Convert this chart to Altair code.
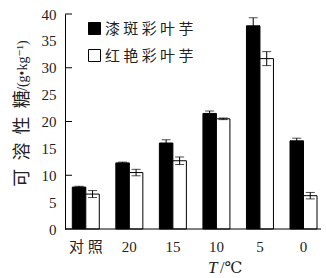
import altair as alt
import pandas as pd

categories = ["对照", "20", "15", "10", "5", "0"]
series_names = ["漆斑彩叶芋", "红艳彩叶芋"]
values_a = [7.8, 12.3, 16.0, 21.5, 37.8, 16.4]
errors_a = [0.15, 0.15, 0.6, 0.45, 1.5, 0.5]
values_b = [6.5, 10.5, 12.7, 20.5, 31.7, 6.2]
errors_b = [0.65, 0.6, 0.7, 0.15, 1.3, 0.6]
y_labels = [0, 5, 10, 15, 20, 25, 30, 35, 40]
y_ticks = [0, 10, 20, 30, 40]
y_title_cn = "可 \u2009溶 \u2009性 \u2009糖"
y_title_unit = "/(g•kg⁻¹)"

rows = []
for i, c in enumerate(categories):
    rows.append(dict(cat=c, series=series_names[0], v=values_a[i],
                     lo=values_a[i] - errors_a[i], hi=values_a[i] + errors_a[i]))
    rows.append(dict(cat=c, series=series_names[1], v=values_b[i],
                     lo=values_b[i] - errors_b[i], hi=values_b[i] + errors_b[i]))
df = pd.DataFrame(rows)

W, H = 256, 215
SERIF = "Liberation Serif, DejaVu Serif, Noto Sans CJK SC"

x_scale = alt.Scale(domain=categories, range=[7.3, 252], paddingInner=0.38, paddingOuter=0)
x_axis = alt.Axis(title=None, domain=False, ticks=False, labelAngle=0,
                  labelFont=SERIF, labelFontSize=15, labelColor="#222",
                  labelPadding=10,
                  labelExpr="join(split(datum.label, ''), datum.label == '对照' ? ' ' : '')")
xo_enc = alt.XOffset("series:N", sort=series_names,
                     scale=alt.Scale(domain=series_names, paddingInner=0, paddingOuter=0))
y_scale = alt.Scale(domain=[0, 40], nice=False)
y_axis = alt.Axis(values=y_labels, ticks=False, grid=False, domainColor="black",
                  domainWidth=1, labelFont="Liberation Serif", labelFontSize=15,
                  labelColor="#222", labelPadding=9, title=None)


def xenc():
    return alt.X("cat:N", sort=categories, scale=x_scale, axis=x_axis)


def yenc(field):
    return alt.Y(field, scale=y_scale, axis=y_axis)


bars = alt.Chart(df).mark_bar(stroke="black", strokeWidth=1).encode(
    x=xenc(),
    xOffset=xo_enc,
    y=yenc("v:Q"),
    fill=alt.Color("series:N", sort=series_names,
                   scale=alt.Scale(domain=series_names, range=["black", "white"]),
                   legend=alt.Legend(title=None, orient="none", legendX=22, legendY=7,
                                     symbolType="square", symbolSize=144,
                                     symbolStrokeColor="black", symbolStrokeWidth=1,
                                     symbolOpacity=1, labelFont="Noto Sans CJK SC",
                                     labelFontSize=15, labelColor="#222", labelOffset=3,
                                     rowPadding=10, padding=0,
                                     labelExpr="join(split(datum.label, ''), ' ')")),
)

err = alt.Chart(df).mark_rule(color="black", strokeWidth=1).encode(
    x=xenc(), xOffset=xo_enc, y=yenc("lo:Q"), y2="hi:Q",
)
cap_hi = alt.Chart(df).mark_tick(color="black", thickness=1).encode(
    x=xenc(), xOffset=xo_enc, y=yenc("hi:Q"), size=alt.value(9),
)
cap_lo = alt.Chart(df).mark_tick(color="black", thickness=1).encode(
    x=xenc(), xOffset=xo_enc, y=yenc("lo:Q"), size=alt.value(9),
)

tick_rules = alt.Chart(pd.DataFrame({"t": y_ticks})).mark_rule(color="black").encode(
    y=yenc("t:Q"), x=alt.value(0), x2=alt.value(7),
)
x_line = alt.Chart(pd.DataFrame({"z": [0]})).mark_rule(color="black").encode(
    y=yenc("z:Q"), x=alt.value(0), x2=alt.value(W),
)

t_italic = alt.Chart(pd.DataFrame({"s": ["T"]})).mark_text(
    font="Liberation Serif", fontSize=17, fontStyle="italic", align="left",
    baseline="middle", color="#222").encode(
    text="s:N", x=alt.value(143), y=alt.value(254))
t_unit = alt.Chart(pd.DataFrame({"s": ["/℃"]})).mark_text(
    font=SERIF, fontSize=16, align="left", baseline="middle", color="#222").encode(
    text="s:N", x=alt.value(155), y=alt.value(254))

ytitle_cn = alt.Chart(pd.DataFrame({"s": [y_title_cn]})).mark_text(
    font="Liberation Serif, Noto Sans CJK SC", fontSize=18, angle=270, align="center",
    baseline="middle", color="#222").encode(
    text="s:N", x=alt.value(-42.5), y=alt.value(124.5))
ytitle_unit = alt.Chart(pd.DataFrame({"s": [y_title_unit]})).mark_text(
    font=SERIF, fontSize=14, angle=270, align="left",
    baseline="middle", color="#222").encode(
    text="s:N", x=alt.value(-42.5), y=alt.value(77))

chart = alt.layer(bars, err, cap_hi, cap_lo, tick_rules, x_line, t_italic, t_unit,
                  ytitle_cn, ytitle_unit).properties(
    width=W, height=H,
    autosize=alt.AutoSizeParams(type="none"),
    padding={"left": 65, "top": 14, "right": 5, "bottom": 49},
    background="white",
).configure_view(stroke=None)

chart.save("out.html", embed_options={"renderer": "svg", "actions": False})
